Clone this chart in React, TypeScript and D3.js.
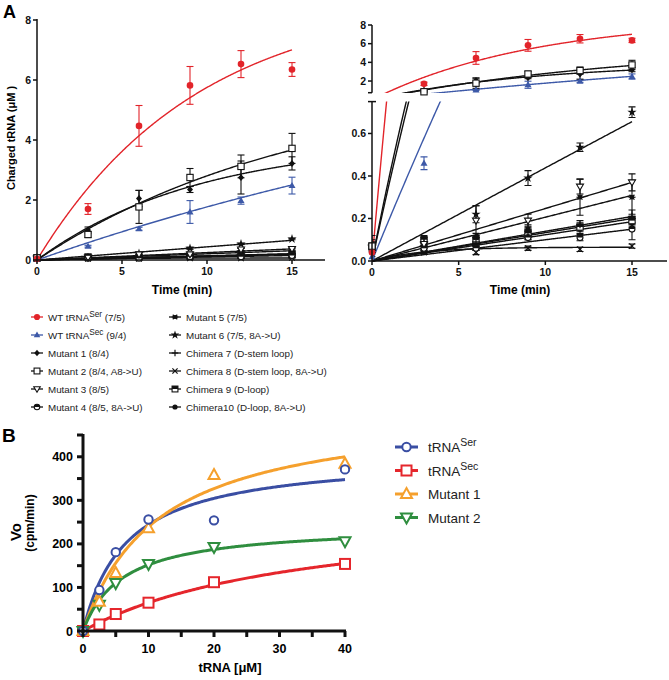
import React from "react";
import * as d3 from "d3";

const FONT = "'Liberation Sans', Arial, Helvetica, sans-serif";

// ---------- Panel A data ----------
const timePoints = [0, 3, 6, 9, 12, 15];

const wtSerVals = [0.04, 1.7, 4.47, 5.82, 6.53, 6.35];
const wtSerErr = [0, 0.18, 0.68, 0.63, 0.45, 0.23];
const wtSecVals = [0.02, 0.46, 1.04, 1.6, 1.98, 2.48];
const wtSecErr = [0, 0.03, 0.05, 0.38, 0.12, 0.28];
const mut1Vals = [0.07, 1.0, 2.05, 2.35, 2.75, 3.22];
const mut1Err = [0.03, 0.1, 0.27, 0.1, 0.55, 0.22];
const mut2Vals = [0.07, 0.85, 1.77, 2.75, 3.12, 3.72];
const mut2Err = [0.02, 0.1, 0.55, 0.3, 0.38, 0.5];
const mut3Vals = [0.06, 0.08, 0.19, 0.19, 0.35, 0.37];
const mut3Err = [0.01, 0.02, 0.07, 0.03, 0.035, 0.04];
const mut4Vals = [0.05, 0.06, 0.06, 0.11, 0.11, 0.15];
const mut4Err = [0.01, 0.01, 0.01, 0.01, 0.015, 0.05];
const mut5Vals = [0.06, 0.07, 0.11, 0.15, 0.3, 0.3];
const mut5Err = [0.01, 0.01, 0.02, 0.02, 0.085, 0.08];
const mut6Vals = [0.07, 0.08, 0.22, 0.39, 0.535, 0.7];
const mut6Err = [0.01, 0.01, 0.04, 0.035, 0.02, 0.025];
const chi7Vals = [0.07, 0.09, 0.09, 0.14, 0.17, 0.21];
const chi7Err = [0.05, 0.02, 0.02, 0.02, 0.02, 0.03];
const chi8Vals = [0.05, 0.04, 0.04, 0.06, 0.055, 0.07];
const chi8Err = [0.01, 0.005, 0.01, 0.01, 0.01, 0.01];
const chi9Vals = [0.07, 0.1, 0.1, 0.13, 0.16, 0.19];
const chi9Err = [0.01, 0.02, 0.02, 0.02, 0.02, 0.02];
const chi10Vals = [0.06, 0.06, 0.08, 0.12, 0.15, 0.18];
const chi10Err = [0.01, 0.01, 0.01, 0.02, 0.02, 0.02];

// one-phase association fit parameters: Y = Ymax * (1 - exp(-k t))
const fitYmaxA = [8.8, 8, 4, 6, 50, 50, 50, 50, 50, 0.065, 50, 50];
const fitKA = [0.106, 0.025, 0.105, 0.063, 0.000495, 0.0002, 0.000413, 0.00088, 0.00028, 0.35, 0.000267, 0.000247];

const labelMainA = [
  "WT tRNA", "WT tRNA", "Mutant 1 (8/4)", "Mutant 2 (8/4, A8->U)", "Mutant 3 (8/5)",
  "Mutant 4 (8/5, 8A->U)", "Mutant 5 (7/5)", "Mutant 6 (7/5, 8A->U)", "Chimera 7 (D-stem loop)",
  "Chimera 8 (D-stem loop, 8A->U)", "Chimera 9 (D-loop)", "Chimera10 (D-loop, 8A->U)",
];
const labelSupA = ["Ser", "Sec", "", "", "", "", "", "", "", "", "", ""];
const labelTailA = [" (7/5)", " (9/4)", "", "", "", "", "", "", "", "", "", ""];
const markerA = ["circle", "triUp", "diamond", "square", "triDown", "halfCircle", "asterisk", "star", "plus", "times", "halfSquare", "dot"];
const RED_A = "#e2242a";
const BLUE_A = "#3d59a8";
const colorA = [RED_A, BLUE_A, "#111", "#111", "#111", "#111", "#111", "#111", "#111", "#111", "#111", "#111"];

// ---------- Panel B data ----------
const substrate = [0, 2.5, 5, 10, 20, 40];
const serV = [0, 94, 181, 256, 254, 371];
const secV = [0, 15, 39, 65, 112, 154];
const mut1V = [0, 67, 133, 236, 358, 384];
const mut2V = [0, 60, 110, 154, 193, 206];
const labelB = ["tRNA", "tRNA", "Mutant 1", "Mutant 2"];
const labelSupB = ["Ser", "Sec", "", ""];
const vmaxB = [405, 288, 515, 244];
const kmB = [6.6, 34.3, 11.5, 6.07];
const colorB = ["#3a4ea3", "#e5262c", "#f5a02d", "#2f8e3f"];
const markerB = ["circle", "square", "triUp", "triDown"];

const valsA = [wtSerVals, wtSecVals, mut1Vals, mut2Vals, mut3Vals, mut4Vals, mut5Vals, mut6Vals, chi7Vals, chi8Vals, chi9Vals, chi10Vals];
const errsA = [wtSerErr, wtSecErr, mut1Err, mut2Err, mut3Err, mut4Err, mut5Err, mut6Err, chi7Err, chi8Err, chi9Err, chi10Err];
const valsB = [serV, secV, mut1V, mut2V];

function MarkerA({ type, x, y, color, s = 7 }: any) {
  const h = s / 2;
  switch (type) {
    case "circle":
      return <circle cx={x} cy={y} r={h * 0.95} fill={color} />;
    case "dot":
      return <circle cx={x} cy={y} r={h * 0.8} fill={color} />;
    case "triUp":
      return <path d={`M${x},${y - h * 1.05}L${x + h},${y + h * 0.7}L${x - h},${y + h * 0.7}Z`} fill={color} />;
    case "triDown":
      return <path d={`M${x},${y + h * 1.0}L${x + h},${y - h * 0.7}L${x - h},${y - h * 0.7}Z`} fill="#fff" stroke={color} strokeWidth={1.1} />;
    case "diamond":
      return <path d={`M${x},${y - h}L${x + h * 0.85},${y}L${x},${y + h}L${x - h * 0.85},${y}Z`} fill={color} />;
    case "square":
      return <rect x={x - h * 0.9} y={y - h * 0.9} width={h * 1.8} height={h * 1.8} fill="#fff" stroke={color} strokeWidth={1.1} />;
    case "halfSquare":
      return (
        <g>
          <rect x={x - h * 0.9} y={y - h * 0.9} width={h * 1.8} height={h * 1.8} fill="#fff" stroke={color} strokeWidth={1.1} />
          <rect x={x - h * 0.9} y={y - h * 0.9} width={h * 1.8} height={h * 0.9} fill={color} />
        </g>
      );
    case "halfCircle":
      return (
        <g>
          <circle cx={x} cy={y} r={h * 0.85} fill="#fff" stroke={color} strokeWidth={1.1} />
          <path d={`M${x - h * 0.85},${y}A${h * 0.85},${h * 0.85} 0 0 1 ${x + h * 0.85},${y}Z`} fill={color} />
        </g>
      );
    case "asterisk":
      return (
        <g stroke={color} strokeWidth={1.2}>
          <line x1={x - h} y1={y} x2={x + h} y2={y} />
          <line x1={x - h * 0.7} y1={y - h * 0.7} x2={x + h * 0.7} y2={y + h * 0.7} />
          <line x1={x - h * 0.7} y1={y + h * 0.7} x2={x + h * 0.7} y2={y - h * 0.7} />
          <circle cx={x} cy={y} r={h * 0.45} fill={color} />
        </g>
      );
    case "star": {
      const p = d3.symbol(d3.symbolStar, s * s * 0.55)() as string;
      return <path d={p} transform={`translate(${x},${y})`} fill={color} />;
    }
    case "plus":
      return (
        <g stroke={color} strokeWidth={1.2}>
          <line x1={x - h} y1={y} x2={x + h} y2={y} />
          <line x1={x} y1={y - h} x2={x} y2={y + h} />
        </g>
      );
    case "times":
      return (
        <g stroke={color} strokeWidth={1.2}>
          <line x1={x - h * 0.8} y1={y - h * 0.8} x2={x + h * 0.8} y2={y + h * 0.8} />
          <line x1={x - h * 0.8} y1={y + h * 0.8} x2={x + h * 0.8} y2={y - h * 0.8} />
        </g>
      );
    default:
      return null;
  }
}

function MarkerB({ type, x, y, color }: any) {
  const sw = 2;
  switch (type) {
    case "circle":
      return <circle cx={x} cy={y} r={4.2} fill="#fff" stroke={color} strokeWidth={sw} />;
    case "square":
      return <rect x={x - 5} y={y - 5} width={10} height={10} fill="#fff" stroke={color} strokeWidth={sw} />;
    case "triUp":
      return <path d={`M${x},${y - 6}L${x + 5.5},${y + 4}L${x - 5.5},${y + 4}Z`} fill="#fff" stroke={color} strokeWidth={sw} />;
    case "triDown":
      return <path d={`M${x},${y + 6}L${x + 5.5},${y - 4}L${x - 5.5},${y - 4}Z`} fill="#fff" stroke={color} strokeWidth={sw} />;
    default:
      return null;
  }
}

function ErrBar({ x, y1, y2, color }: any) {
  return (
    <g stroke={color} strokeWidth={1.1}>
      <line x1={x} y1={y1} x2={x} y2={y2} />
      <line x1={x - 3.5} y1={y1} x2={x + 3.5} y2={y1} />
      <line x1={x - 3.5} y1={y2} x2={x + 3.5} y2={y2} />
    </g>
  );
}

export default function App() {
  const tSamples = d3.range(0, 15.0001, 0.05);
  const order = [11, 10, 9, 8, 7, 6, 5, 4, 1, 2, 3, 0];
  const fitF = (i: number) => (t: number) => fitYmaxA[i] * (1 - Math.exp(-fitKA[i] * t));

  const xL = d3.scaleLinear().domain([0, 15]).range([37, 292]);
  const yL = d3.scaleLinear().domain([0, 8]).range([260, 20]);
  const xR = d3.scaleLinear().domain([0, 15]).range([372, 632]);
  const yRU = d3.scaleLinear().domain([0.75, 8]).range([92.7, 25]);
  const yRL = d3.scaleLinear().domain([0, 0.75]).range([261, 101.6]);

  const tickStyle: any = { fontFamily: FONT, fontWeight: 700, fontSize: 10.5, fill: "#111" };

  const drawSeries = (xS: any, yS: any, lo: number, hi: number, clipId: string | null) => {
    const lineGen = (i: number) =>
      d3.line<number>().x((t) => xS(t)).y((t) => yS(fitF(i)(t)))(tSamples) as string;
    return (
      <g>
        <g clipPath={clipId ? `url(#${clipId})` : undefined}>
          {order.map((i) => (
            <path key={"l" + i} d={lineGen(i)} fill="none" stroke={colorA[i]} strokeWidth={1.4} />
          ))}
          {order.map((i) =>
            timePoints.map((t, j) => {
              const v = valsA[i][j];
              const e = errsA[i][j];
              if (e <= 0 || v < lo || v > hi) return null;
              return <ErrBar key={`e${i}-${j}`} x={xS(t)} y1={yS(v + e)} y2={yS(Math.max(v - e, 0))} color={colorA[i]} />;
            })
          )}
        </g>
        {order.map((i) =>
          timePoints.map((t, j) => {
            const v = valsA[i][j];
            if (v < lo || v > hi) return null;
            return <MarkerA key={`m${i}-${j}`} type={markerA[i]} x={xS(t)} y={yS(v)} color={colorA[i]} />;
          })
        )}
      </g>
    );
  };

  const xB = d3.scaleLinear().domain([0, 40]).range([83, 345]);
  const yB = d3.scaleLinear().domain([0, 450]).range([631, 435]);
  const sB = d3.range(0, 40.0001, 0.2);

  return (
    <div style={{ position: "absolute", left: 0, top: 0, width: 669, height: 680, background: "#fff" }}>
      <svg width={669} height={680} style={{ display: "block" }}>
        <defs>
          <clipPath id="clipL">
            <rect x={37} y={0} width={300} height={262} />
          </clipPath>
          <clipPath id="clipRU">
            <rect x={372} y={15} width={297} height={78} />
          </clipPath>
          <clipPath id="clipRL">
            <rect x={372} y={101.6} width={297} height={161} />
          </clipPath>
        </defs>

        <text x={3} y={18} style={{ fontFamily: FONT, fontWeight: 700, fontSize: 18 }}>A</text>

        {/* ---- Left panel ---- */}
        <g>
          {drawSeries(xL, yL, -1, 100, "clipL")}
          <line x1={37} y1={19} x2={37} y2={260} stroke="#111" strokeWidth={1.5} />
          <line x1={37} y1={260} x2={325} y2={260} stroke="#111" strokeWidth={1.5} />
          {[0, 2, 4, 6, 8].map((v) => (
            <g key={"yl" + v}>
              <line x1={33} x2={37} y1={yL(v)} y2={yL(v)} stroke="#111" strokeWidth={1.5} />
              <text x={31} y={yL(v) + 3.8} textAnchor="end" style={tickStyle}>{v}</text>
            </g>
          ))}
          {[0, 5, 10, 15].map((v) => (
            <g key={"xl" + v}>
              <line x1={xL(v)} x2={xL(v)} y1={260} y2={264} stroke="#111" strokeWidth={1.5} />
              <text x={xL(v)} y={275} textAnchor="middle" style={tickStyle}>{v}</text>
            </g>
          ))}
          <text transform="translate(15,138) rotate(-90)" textAnchor="middle" style={{ fontFamily: FONT, fontWeight: 700, fontSize: 11 }}>
            Charged tRNA (μM )
          </text>
          <text x={182} y={294} textAnchor="middle" style={{ fontFamily: FONT, fontWeight: 700, fontSize: 12 }}>
            Time (min)
          </text>
        </g>

        {/* ---- Right panel ---- */}
        <g>
          {drawSeries(xR, yRU, 0.75, 100, "clipRU")}
          {drawSeries(xR, yRL, -1, 0.75, "clipRL")}
          <line x1={372} y1={25} x2={372} y2={92.7} stroke="#111" strokeWidth={1.5} />
          <line x1={372} y1={101.6} x2={372} y2={261} stroke="#111" strokeWidth={1.5} />
          <line x1={368} x2={372} y1={92.7} y2={92.7} stroke="#111" strokeWidth={1.5} />
          <line x1={368} x2={376} y1={101.6} y2={101.6} stroke="#111" strokeWidth={1.5} />
          <line x1={372} y1={261} x2={667} y2={261} stroke="#111" strokeWidth={1.5} />
          {[2, 4, 6, 8].map((v) => (
            <g key={"yru" + v}>
              <line x1={368} x2={372} y1={yRU(v)} y2={yRU(v)} stroke="#111" strokeWidth={1.5} />
              <text x={366} y={yRU(v) + 3.8} textAnchor="end" style={tickStyle}>{v}</text>
            </g>
          ))}
          {[0, 0.2, 0.4, 0.6].map((v) => (
            <g key={"yrl" + v}>
              <line x1={368} x2={372} y1={yRL(v)} y2={yRL(v)} stroke="#111" strokeWidth={1.5} />
              <text x={366} y={yRL(v) + 3.8} textAnchor="end" style={tickStyle}>{v.toFixed(1)}</text>
            </g>
          ))}
          {[0, 5, 10, 15].map((v) => (
            <g key={"xr" + v}>
              <line x1={xR(v)} x2={xR(v)} y1={261} y2={265} stroke="#111" strokeWidth={1.5} />
              <text x={xR(v)} y={276} textAnchor="middle" style={tickStyle}>{v}</text>
            </g>
          ))}
          <text x={520} y={294} textAnchor="middle" style={{ fontFamily: FONT, fontWeight: 700, fontSize: 12 }}>
            Time (min)
          </text>
        </g>

        {/* ---- Legend A ---- */}
        <g>
          {labelMainA.map((lab, i) => {
            const col = i < 6 ? 0 : 1;
            const row = i % 6;
            const mx = col === 0 ? 37 : 175;
            const tx = col === 0 ? 48 : 186;
            const cy = 317 + row * 18;
            return (
              <g key={"lg" + i}>
                <line x1={mx - 6} x2={mx + 6} y1={cy} y2={cy} stroke={colorA[i]} strokeWidth={1.3} />
                <MarkerA type={markerA[i]} x={mx} y={cy} color={colorA[i]} s={6.5} />
                <text x={tx} y={cy + 3.5} style={{ fontFamily: FONT, fontSize: 9.8, fill: "#222" }}>
                  {lab}
                  {labelSupA[i] ? (
                    <>
                      <tspan dy={-4} fontSize={8.3}>{labelSupA[i]}</tspan>
                      <tspan dy={4}>{labelTailA[i]}</tspan>
                    </>
                  ) : null}
                </text>
              </g>
            );
          })}
        </g>

        <text x={2} y={442} style={{ fontFamily: FONT, fontWeight: 700, fontSize: 19 }}>B</text>

        {/* ---- Panel B ---- */}
        <g>
          {valsB.map((vals, i) => {
            const d = d3
              .line<number>()
              .x((s) => xB(s))
              .y((s) => yB((vmaxB[i] * s) / (kmB[i] + s)))(sB) as string;
            return <path key={"bl" + i} d={d} fill="none" stroke={colorB[i]} strokeWidth={3} />;
          })}
          {[1, 3, 2, 0].map((i) =>
            substrate.map((s, j) => (
              <MarkerB key={`bm${i}-${j}`} type={markerB[i]} x={xB(s)} y={yB(valsB[i][j])} color={colorB[i]} />
            ))
          )}
          <line x1={83} y1={434} x2={83} y2={632.5} stroke="#111" strokeWidth={3} />
          <line x1={81.5} y1={631} x2={346} y2={631} stroke="#111" strokeWidth={3} />
          {d3.range(0, 451, 50).map((v) => (
            <line key={"byt" + v} x1={77} x2={83} y1={yB(v)} y2={yB(v)} stroke="#111" strokeWidth={3} />
          ))}
          {[0, 100, 200, 300, 400].map((v) => (
            <text key={"byl" + v} x={73} y={yB(v) + 4.5} textAnchor="end" style={{ fontFamily: FONT, fontWeight: 700, fontSize: 12.5 }}>
              {v}
            </text>
          ))}
          {d3.range(0, 41, 5).map((v) => (
            <line key={"bxt" + v} x1={xB(v)} x2={xB(v)} y1={631} y2={637} stroke="#111" strokeWidth={3} />
          ))}
          {[0, 10, 20, 30, 40].map((v) => (
            <text key={"bxl" + v} x={xB(v)} y={653} textAnchor="middle" style={{ fontFamily: FONT, fontWeight: 700, fontSize: 12.5 }}>
              {v}
            </text>
          ))}
          <text transform="translate(21,532) rotate(-90)" textAnchor="middle" style={{ fontFamily: FONT, fontWeight: 700, fontSize: 15 }}>
            Vo
          </text>
          <text transform="translate(34,523) rotate(-90)" textAnchor="middle" style={{ fontFamily: FONT, fontWeight: 700, fontSize: 12 }}>
            (cpm/min)
          </text>
          <text x={230} y={672} textAnchor="middle" style={{ fontFamily: FONT, fontWeight: 700, fontSize: 13 }}>
            tRNA [μM]
          </text>
        </g>

        {/* ---- Legend B ---- */}
        <g>
          {labelB.map((lab, i) => {
            const cy = 447 + i * 23.5;
            return (
              <g key={"lb" + i}>
                <line x1={395} x2={418} y1={cy} y2={cy} stroke={colorB[i]} strokeWidth={3} />
                <MarkerB type={markerB[i]} x={406.5} y={cy} color={colorB[i]} />
                <text x={428} y={cy + 5} style={{ fontFamily: FONT, fontSize: 13.5, fill: "#222" }}>
                  {lab}
                  {labelSupB[i] ? <tspan dy={-6} fontSize={10.5}>{labelSupB[i]}</tspan> : null}
                </text>
              </g>
            );
          })}
        </g>
      </svg>
    </div>
  );
}
